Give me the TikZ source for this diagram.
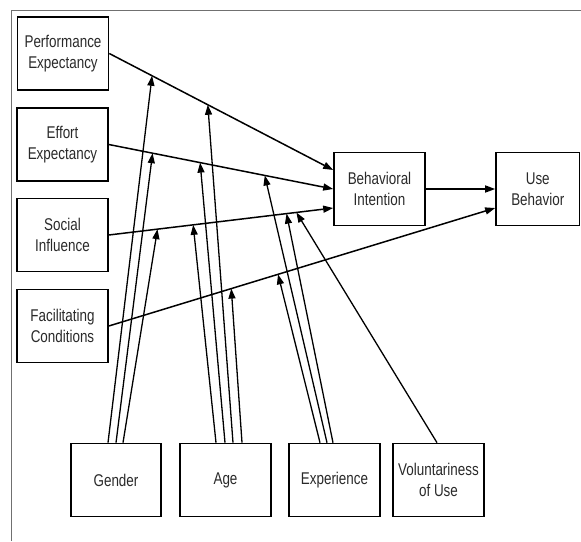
\documentclass[tikz,border=0pt]{standalone}
\usepackage{fontspec}
\setmainfont{Liberation Sans}[FakeStretch=0.79]
\usetikzlibrary{arrows.meta,calc}
\definecolor{txt}{HTML}{2A2A2A}
\definecolor{frame}{HTML}{707070}
\tikzset{
  box/.style={draw=black, line width=1.6pt, minimum width=91pt, minimum height=73pt,
    inner sep=0pt, align=center, text=txt, font=\fontsize{17}{20.5}\selectfont},
  link/.style={line width=1.5pt, -{Triangle[length=10pt,width=7pt]}},
  modlink/.style={line width=1.3pt, -{Triangle[length=10pt,width=7pt]}},
  framestyle/.style={draw=frame, line width=1pt}
}
\begin{document}
\begin{tikzpicture}[x=1pt,y=-1pt]
\useasboundingbox (0,0) rectangle (581,541);
% frame
\coordinate (f1) at (11,541);
\coordinate (f2) at (11,10);
\coordinate (f3) at (581,10);
\draw[framestyle] (f1) -- (f2) -- (f3);
% nodes
\node[box] (PE) at (63,53.5) {Performance\\Expectancy};
\node[box] (EE) at (62.5,144.5) {Effort\\Expectancy};
\node[box] (SI) at (62.5,235) {Social\\Influence};
\node[box] (FC) at (62.5,326) {Facilitating\\Conditions};
\node[box] (BI) at (379.5,189) {Behavioral\\Intention};
\node[box, minimum width=83.5pt] (UB) at (537.75,189) {Use\\Behavior};
\node[box, minimum width=90pt] (G) at (116,480) {Gender};
\node[box] (A) at (225.5,480) {Age};
\node[box] (X) at (334.5,480) {Experience};
\node[box] (V) at (438.5,480) {Voluntariness\\of Use};
% targets
\coordinate (bi1) at ($(BI.west)+(0,-19)$);
\coordinate (bi3) at ($(BI.west)+(0,19)$);
\coordinate (ub2) at ($(UB.west)+(0,19)$);
% main arrows
\draw[link] (PE.east) -- (bi1);
\draw[link] (EE.east) -- (BI.west);
\draw[link] (SI.east) -- (bi3);
\draw[link] (FC.east) -- (ub2);
\draw[link] (BI.east) -- (UB.west);
% moderator targets on lines
\coordinate (peG) at ($(PE.east)!0.191!(bi1)$);
\coordinate (peA) at ($(PE.east)!0.44!(bi1)$);
\coordinate (eeG) at ($(EE.east)!0.195!(BI.west)$);
\coordinate (eeA) at ($(EE.east)!0.407!(BI.west)$);
\coordinate (eeX) at ($(EE.east)!0.695!(BI.west)$);
\coordinate (siG) at ($(SI.east)!0.217!(bi3)$);
\coordinate (siA) at ($(SI.east)!0.376!(bi3)$);
\coordinate (siX) at ($(SI.east)!0.792!(bi3)$);
\coordinate (siV) at ($(SI.east)!0.836!(bi3)$);
\coordinate (fcA) at ($(FC.east)!0.317!(ub2)$);
\coordinate (fcX) at ($(FC.east)!0.438!(ub2)$);
% moderator sources
\coordinate (g1) at ($(G.north)+(-8,0)$);
\coordinate (g2) at ($(G.north)+(0,0)$);
\coordinate (g3) at ($(G.north)+(7,0)$);
\coordinate (a1) at ($(A.north)+(-9.5,0)$);
\coordinate (a2) at ($(A.north)+(-0.5,0)$);
\coordinate (a3) at ($(A.north)+(7.5,0)$);
\coordinate (a4) at ($(A.north)+(16.5,0)$);
\coordinate (x1) at ($(X.north)+(-14.5,0)$);
\coordinate (x2) at ($(X.north)+(-7.5,0)$);
\coordinate (x3) at ($(X.north)+(-1.5,0)$);
\coordinate (v1) at ($(V.north)+(-1.5,0)$);
% moderator arrows
\draw[modlink] (g1) -- (peG);
\draw[modlink] (g2) -- (eeG);
\draw[modlink] (g3) -- (siG);
\draw[modlink] (a1) -- (siA);
\draw[modlink] (a2) -- (eeA);
\draw[modlink] (a3) -- (peA);
\draw[modlink] (a4) -- (fcA);
\draw[modlink] (x1) -- (fcX);
\draw[modlink] (x2) -- (eeX);
\draw[modlink] (x3) -- (siX);
\draw[modlink] (v1) -- (siV);
\end{tikzpicture}
\end{document}
